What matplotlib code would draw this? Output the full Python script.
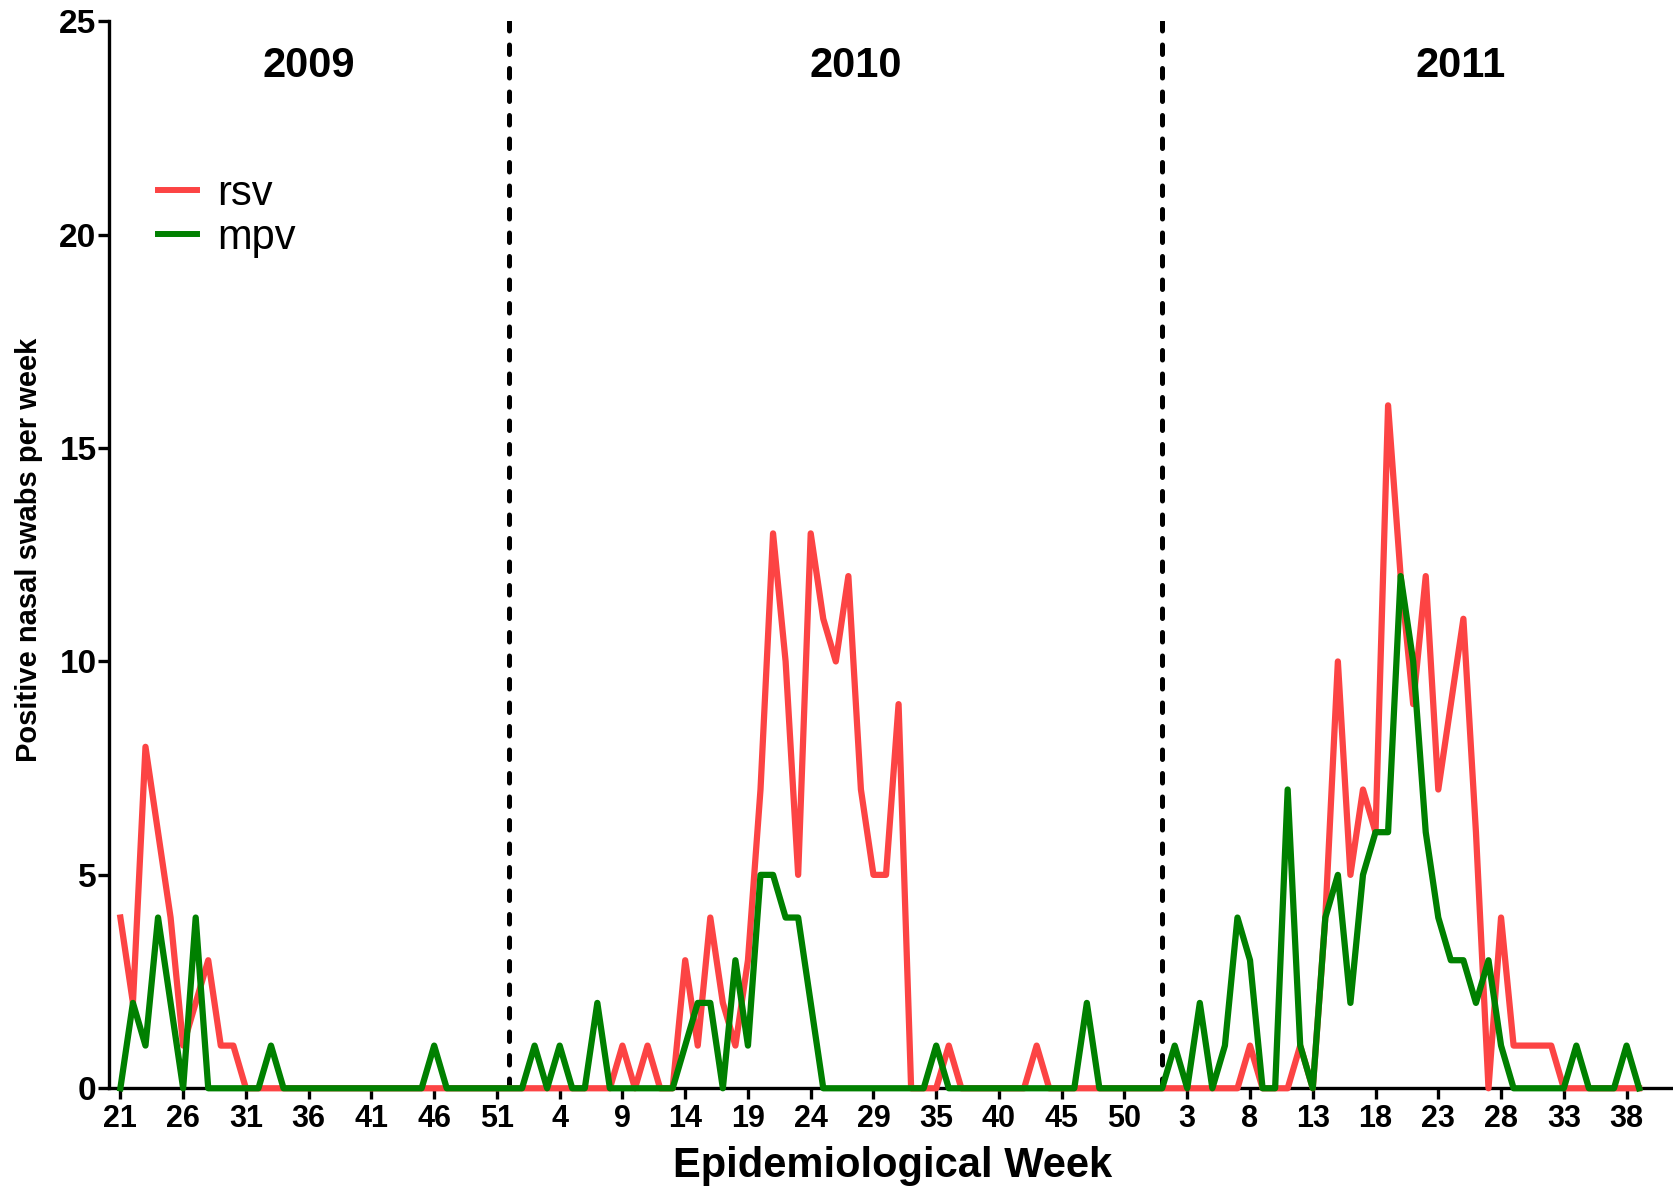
import matplotlib
matplotlib.use("Agg")
import matplotlib.pyplot as plt
import numpy as np

plt.rcParams["font.family"] = ["Liberation Sans", "DejaVu Sans"]

# ---------------------------------------------------------------------------
# weekly counts of positive nasal swabs

weeks_2009 = list(range(21, 53))
weeks_2010 = [w for w in range(1, 53) if w != 34]
weeks_2011 = list(range(1, 40))

rsv_2009 = [4, 2, 8, 6, 4, 1, 2, 3, 1, 1, 0, 0, 0, 0, 0, 0,
            0, 0, 0, 0, 0, 0, 0, 0, 0, 0, 0, 0, 0, 0, 0, 0]
mpv_2009 = [0, 2, 1, 4, 2, 0, 4, 0, 0, 0, 0, 0, 1, 0, 0, 0,
            0, 0, 0, 0, 0, 0, 0, 0, 0, 1, 0, 0, 0, 0, 0, 0]

rsv_2010 = [0, 0, 0, 0, 0, 0, 0, 0, 1, 0, 1, 0, 0, 3, 1, 4, 2,
            1, 3, 7, 13, 10, 5, 13, 11, 10, 12, 7, 5, 5, 9, 0, 0, 0,
            1, 0, 0, 0, 0, 0, 0, 1, 0, 0, 0, 0, 0, 0, 0, 0, 0]
mpv_2010 = [0, 1, 0, 1, 0, 0, 2, 0, 0, 0, 0, 0, 0, 1, 2, 2, 0,
            3, 1, 5, 5, 4, 4, 2, 0, 0, 0, 0, 0, 0, 0, 0, 0, 1,
            0, 0, 0, 0, 0, 0, 0, 0, 0, 0, 0, 2, 0, 0, 0, 0, 0]

rsv_2011 = [0, 0, 0, 0, 0, 0, 0, 1, 0, 0, 0, 1, 0, 4, 10, 5, 7, 6, 16, 12,
            9, 12, 7, 9, 11, 6, 0, 4, 1, 1, 1, 1, 0, 0, 0, 0, 0, 0, 0]
mpv_2011 = [0, 1, 0, 2, 0, 1, 4, 3, 0, 0, 7, 1, 0, 4, 5, 2, 5, 6, 6, 12,
            10, 6, 4, 3, 3, 2, 3, 1, 0, 0, 0, 0, 0, 1, 0, 0, 0, 1, 0]

years = ["2009", "2010", "2011"]

RSV_COLOR = "#fc4444"
MPV_COLOR = "#008000"

# ---------------------------------------------------------------------------

week_labels = weeks_2009 + weeks_2010 + weeks_2011
rsv = np.array(rsv_2009 + rsv_2010 + rsv_2011)
mpv = np.array(mpv_2009 + mpv_2010 + mpv_2011)
x = np.arange(len(week_labels))

# season boundaries: last week of 2009, first week of 2011
bounds = [len(weeks_2009) - 1, len(weeks_2009) + len(weeks_2010)]
year_x = [15.0, 58.6, 106.8]

fig = plt.figure(figsize=(16.73, 11.86), dpi=100)
ax = fig.add_axes([0.0652, 0.0824, 0.9348, 0.8997])

ax.plot(x, rsv, color=RSV_COLOR, lw=4.5, label="rsv",
        solid_joinstyle="round", clip_on=False, zorder=3)
ax.plot(x, mpv, color=MPV_COLOR, lw=4.5, label="mpv",
        solid_joinstyle="round", clip_on=False, zorder=4)

for b in bounds:
    ax.axvline(b, color="black", lw=3.6, linestyle=(0, (1.9, 2.8)),
               dash_capstyle="round", zorder=2)

for yr, xc in zip(years, year_x):
    ax.text(xc, 23.7, yr, ha="center", va="baseline",
            fontsize=30, fontweight="bold")

ax.set_xlim(-0.9, 123.7)
ax.set_ylim(0, 25)
ax.set_yticks(np.arange(0, 26, 5))
ax.set_xticks(x[::5])
ax.set_xticklabels([str(w) for w in week_labels[::5]])

for side in ("top", "right"):
    ax.spines[side].set_visible(False)
for side in ("left", "bottom"):
    ax.spines[side].set_linewidth(2.4)

ax.tick_params(axis="both", direction="out", length=8, width=2.4)
ax.tick_params(axis="x", labelsize=22, pad=3)
ax.tick_params(axis="y", labelsize=24, pad=1)
for lab in ax.get_xticklabels() + ax.get_yticklabels():
    lab.set_fontweight("bold")

ax.set_ylabel("Positive nasal swabs per week", fontsize=21, fontweight="bold")
ax.yaxis.set_label_coords(-0.042, 0.505)
ax.set_xlabel("Epidemiological Week", fontsize=30, fontweight="bold")
ax.xaxis.set_label_coords(0.501, -0.083)
ax.xaxis.label.set_verticalalignment("baseline")

leg = ax.legend(loc="upper left", bbox_to_anchor=(0.0314, 0.857),
                frameon=False, fontsize=30, handlelength=0.94,
                handletextpad=0.48, labelspacing=0.1,
                borderpad=0, borderaxespad=0)
for line in leg.get_lines():
    line.set_linewidth(4.3)

fig.savefig("out.png", dpi=100)
